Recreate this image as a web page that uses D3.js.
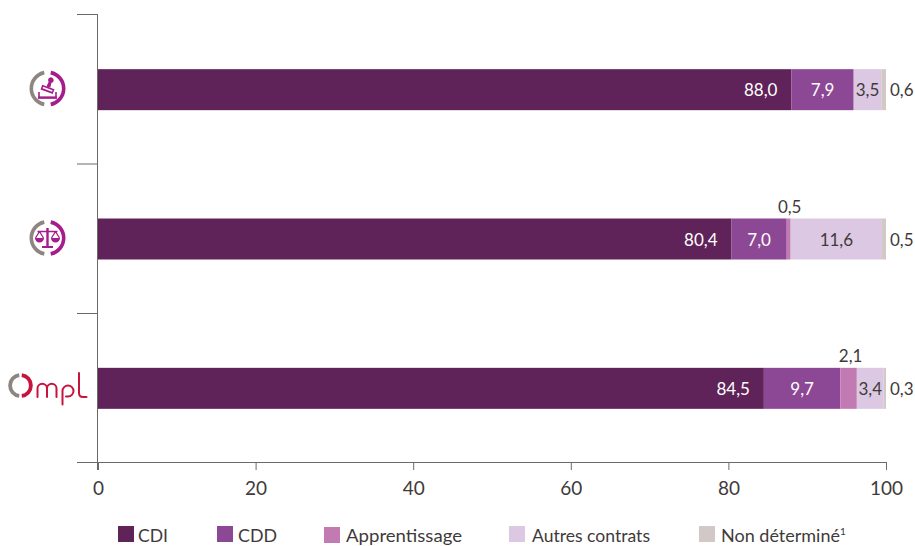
<!DOCTYPE html>
<html><head><meta charset="utf-8">
<script src="https://cdn.jsdelivr.net/npm/d3@7/dist/d3.min.js"></script>
<style>html,body{margin:0;padding:0;background:#fff}svg{display:block}text{font-family:Lato,sans-serif}</style>
</head><body><div id="c"></div>
<script>
const groups = ["stamp","scale","ompl"];
const seriesNames = ["CDI","CDD","Apprentissage","Autres contrats","Non déterminé"];
const cdi = [88.0,80.4,84.5];
const cdd = [7.9,7.0,9.7];
const apprentissage = [0,0.5,2.1];
const autres = [3.5,11.6,3.4];
const nonDetermine = [0.6,0.5,0.3];
const seriesValues = [cdi,cdd,apprentissage,autres,nonDetermine];
const colors = ["#5f2359","#8c4795","#c27ab3","#dcc8e2","#d2c8c6"];
const labelColors = ["#fff","#fff","#403a3a","#403a3a","#403a3a"];
const xTicks = [0,20,40,60,80,100];

const W=915,H=546;
const svg=d3.select("#c").append("svg").attr("width",W).attr("height",H);
const x=d3.scaleLinear().domain([0,100]).range([98,886]);
const y=d3.scaleBand().domain(groups).range([14,462]);
const barH=41;
const fmt=v=>v.toFixed(1).replace(".",",");
const ink="#403a3a";

groups.forEach((g,i)=>{
  let acc=0;
  const cy=y(g)+y.bandwidth()/2+1;
  seriesValues.forEach((vals,s)=>{
    const v=vals[i];
    if(!v){return;}
    const x0=x(acc),x1=x(acc+v);
    svg.append("rect").attr("x",x0).attr("y",cy-barH/2).attr("width",x1-x0).attr("height",barH).attr("fill",colors[s]);
    const t=svg.append("text").attr("font-size",17).attr("fill",labelColors[s]).attr("dominant-baseline","central").text(fmt(v));
    if(s===4){
      t.attr("x",x1+4).attr("y",cy).attr("fill",ink);
    } else if(s===2){
      t.attr("x",(x0+x1)/2+(i===1?1:2)).attr("y",cy-33).attr("text-anchor","middle").attr("fill",ink);
    } else if(s===0){
      t.attr("x",x1-14).attr("y",cy).attr("text-anchor","end");
    } else {
      t.attr("x",(x0+x1)/2).attr("y",cy).attr("text-anchor","middle");
    }
    acc+=v;
  });
});

const axisX=svg.append("g").attr("transform","translate(0,462)")
  .call(d3.axisBottom(x).tickValues(xTicks).tickSize(8).tickPadding(12).tickFormat(d3.format("d")));
axisX.select(".domain").remove();
axisX.selectAll("line").attr("stroke","#6e6868");
axisX.selectAll("text").attr("font-size",19).attr("fill",ink).style("font-family","Lato,sans-serif");
svg.append("line").attr("x1",77).attr("x2",x(100)).attr("y1",462.5).attr("y2",462.5).attr("stroke","#6e6868");
svg.append("line").attr("x1",97.5).attr("x2",97.5).attr("y1",14).attr("y2",470).attr("stroke","#6e6868");
[14,163.5,313].forEach(v=>svg.append("line").attr("x1",77).attr("x2",97.5).attr("y1",v+.5).attr("y2",v+.5).attr("stroke","#6e6868"));

// Legend
const legX=[118,217,324,509,699], legY=[526,526,527,526,526], legT=[138,238,346,532,721], legLen=[30,39,116,118,null];
seriesNames.forEach((n,i)=>{
  svg.append("rect").attr("x",legX[i]).attr("y",legY[i]).attr("width",16).attr("height",16).attr("fill",colors[i]);
  const t=svg.append("text").attr("x",legT[i]).attr("y",541.5).attr("font-size",18).attr("fill",ink).text(n);
  if(legLen[i]) t.attr("textLength",legLen[i]).attr("lengthAdjust","spacingAndGlyphs");
  if(i===4) t.append("tspan").attr("font-size",10).attr("dy",-7).text("1");
});

// Icons
function ring(cx,cy,r,sw,right,left,gap){
  const arc=d3.arc().innerRadius(r-sw/2).outerRadius(r+sw/2);
  svg.append("path").attr("transform",`translate(${cx},${cy})`).attr("fill",left)
    .attr("d",arc({startAngle:-Math.PI+gap,endAngle:-gap}));
  svg.append("path").attr("transform",`translate(${cx},${cy})`).attr("fill",right)
    .attr("d",arc({startAngle:gap,endAngle:Math.PI-gap}));
}
const pink="#a51d8c",grey="#8f8580";
ring(47.5,88.5,16.2,3.6,pink,grey,0.2);
ring(47.5,238,16.2,3.6,pink,grey,0.2);
// stamp
const st=svg.append("g").attr("transform","translate(47.5,89)").attr("fill",pink).attr("stroke",pink);
st.append("path").attr("fill","none").attr("stroke-width",1.6).attr("d","M-8.5,3 V8.5 H8.5 V3");
st.append("path").attr("stroke","none").attr("d","M-9.5,7.5 H9.5 V9.8 H-9.5 Z");
st.append("g").attr("transform","translate(0.5,-1) rotate(20)").call(g=>{
  g.append("path").attr("stroke","none").attr("d","M-6.5,-1 H6.5 V4 H-6.5 Z");
  g.append("rect").attr("x",-5).attr("y",0.6).attr("width",10).attr("height",1.5).attr("fill","#fff").attr("stroke","none");
  g.append("path").attr("stroke","none").attr("d","M-2,-1 L-1.5,-6 A2.8,2.8 0 1 1 1.5,-6 L2,-1 Z");
});
// scales
const sc=svg.append("g").attr("transform","translate(47.5,238)").attr("fill",pink).attr("stroke",pink);
sc.append("path").attr("stroke","none").attr("d","M-1.2,-10 H1.2 V8 H5.5 V10 H-5.5 V8 H-1.2 Z");
sc.append("path").attr("fill","none").attr("stroke-width",1.3).attr("d","M-10,-6.5 H10 M-8,-6.5 L-12,0 M-8,-6.5 L-4,0 M8,-6.5 L4,0 M8,-6.5 L12,0");
sc.append("path").attr("stroke","none").attr("d","M-12.5,0 H-3.5 A4.5,4.5 0 0 1 -12.5,0 Z M3.5,0 H12.5 A4.5,4.5 0 0 1 3.5,0 Z");
// ompl logo
const red="#c8143c";
ring(20.5,385.5,10.4,3.8,red,"#8f8580",0.12);
svg.append("path").attr("fill","none").attr("stroke",red).attr("stroke-width",2).attr("stroke-linecap","round")
 .attr("d","M37.5,397 V388.5 A4.5,4.5 0 0 1 47,388.5 V397 M47,388.5 A4.5,4.5 0 0 1 56.5,388.5 V397 M62.5,404.5 V391 A5.5,5.5 0 1 1 68,396.5 H66 M79,373 V393 Q79,397 83,397 H86.5");
</script></body></html>
